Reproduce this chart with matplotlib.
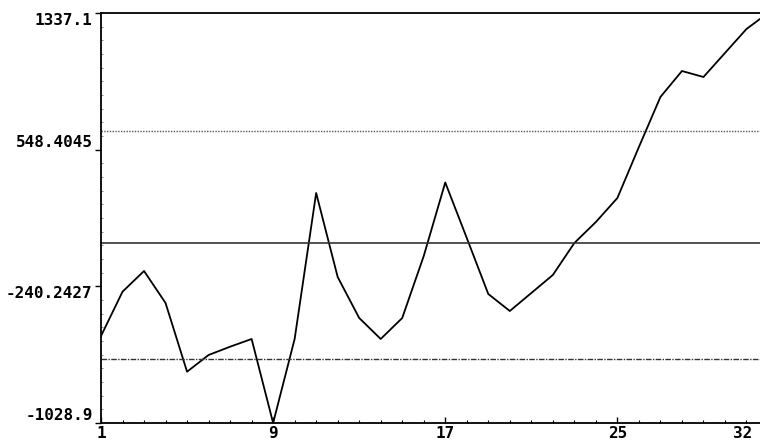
import matplotlib
matplotlib.use("Agg")
import matplotlib.pyplot as plt
import matplotlib.transforms as mtransforms
from matplotlib.ticker import AutoMinorLocator

# sample index and measured values
samples = list(range(1, 33))
values = [-526.8, -271.2, -151.7, -336.4, -732.9, -636.5, -588.6, -544.1,
          -1028.9, -544.0, 298.4, -186.4, -422.9, -544.0, -423.0, -65.2,
          359.0, 38.7, -284.5, -382.6, -278.7, -174.8, 9.8, 131.0,
          269.5, 563.8, 852.4, 1002.4, 967.8, 1106.3, 1244.8, 1337.1]

center_line = 7.0
upper_limit = 656.0
lower_limit = -657.0

y_ticks = [-1028.9, -240.2427, 548.4045, 1337.1]
y_labels = ["-1028.9", "-240.2427", "548.4045", "1337.1"]
x_ticks = [1, 9, 17, 25, 32]
x_labels = ["1", "9", "17", "25", "32"]

fig = plt.figure(figsize=(7.6, 4.4), dpi=100)
# axes run slightly past the right edge, like the cropped original
ax = fig.add_axes([101 / 760, 17 / 440, 667 / 760, 410 / 440])

ax.plot(samples, values, color="black", linewidth=1.3)
ax.axhline(upper_limit, color="#555555", linewidth=1, linestyle=(0, (1, 1)))
ax.axhline(center_line, color="#333333", linewidth=1.2)
ax.axhline(lower_limit, color="#333333", linewidth=1, linestyle=(0, (4, 1, 1, 1)))

ax.set_xlim(1, 32)
ax.set_ylim(-1028.9, 1337.1)

for side in ["left", "bottom", "top"]:
    ax.spines[side].set_color("black")
    ax.spines[side].set_linewidth(1.3)
ax.spines["right"].set_visible(False)

font = dict(family="DejaVu Sans Mono", weight="bold", size=11.5)

ax.set_yticks(y_ticks)
ax.set_yticklabels(y_labels, **font)
ax.set_xticks(x_ticks)
ax.set_xticklabels(x_labels, **font)

ax.set_xticks(samples, minor=True)
ax.yaxis.set_minor_locator(AutoMinorLocator(10))
ax.tick_params(axis="y", which="major", direction="out", length=4, width=1, pad=2)
ax.tick_params(axis="y", which="minor", direction="in", length=1.5, width=0.6,
               color="#777777")
ax.tick_params(axis="x", which="major", direction="in", length=4, width=1, pad=2)
ax.tick_params(axis="x", which="minor", direction="in", length=2.5, width=0.8)

# the original puts labels above/below their ticks rather than centred
for lab, va in zip(ax.get_yticklabels(), ["bottom", "top", "bottom", "top"]):
    lab.set_verticalalignment(va)

# pull the last x label back into view
shift = mtransforms.ScaledTranslation(-0.25, 0, fig.dpi_scale_trans)
last = ax.get_xticklabels()[-1]
last.set_transform(last.get_transform() + shift)

fig.savefig("out.png", dpi=100)
